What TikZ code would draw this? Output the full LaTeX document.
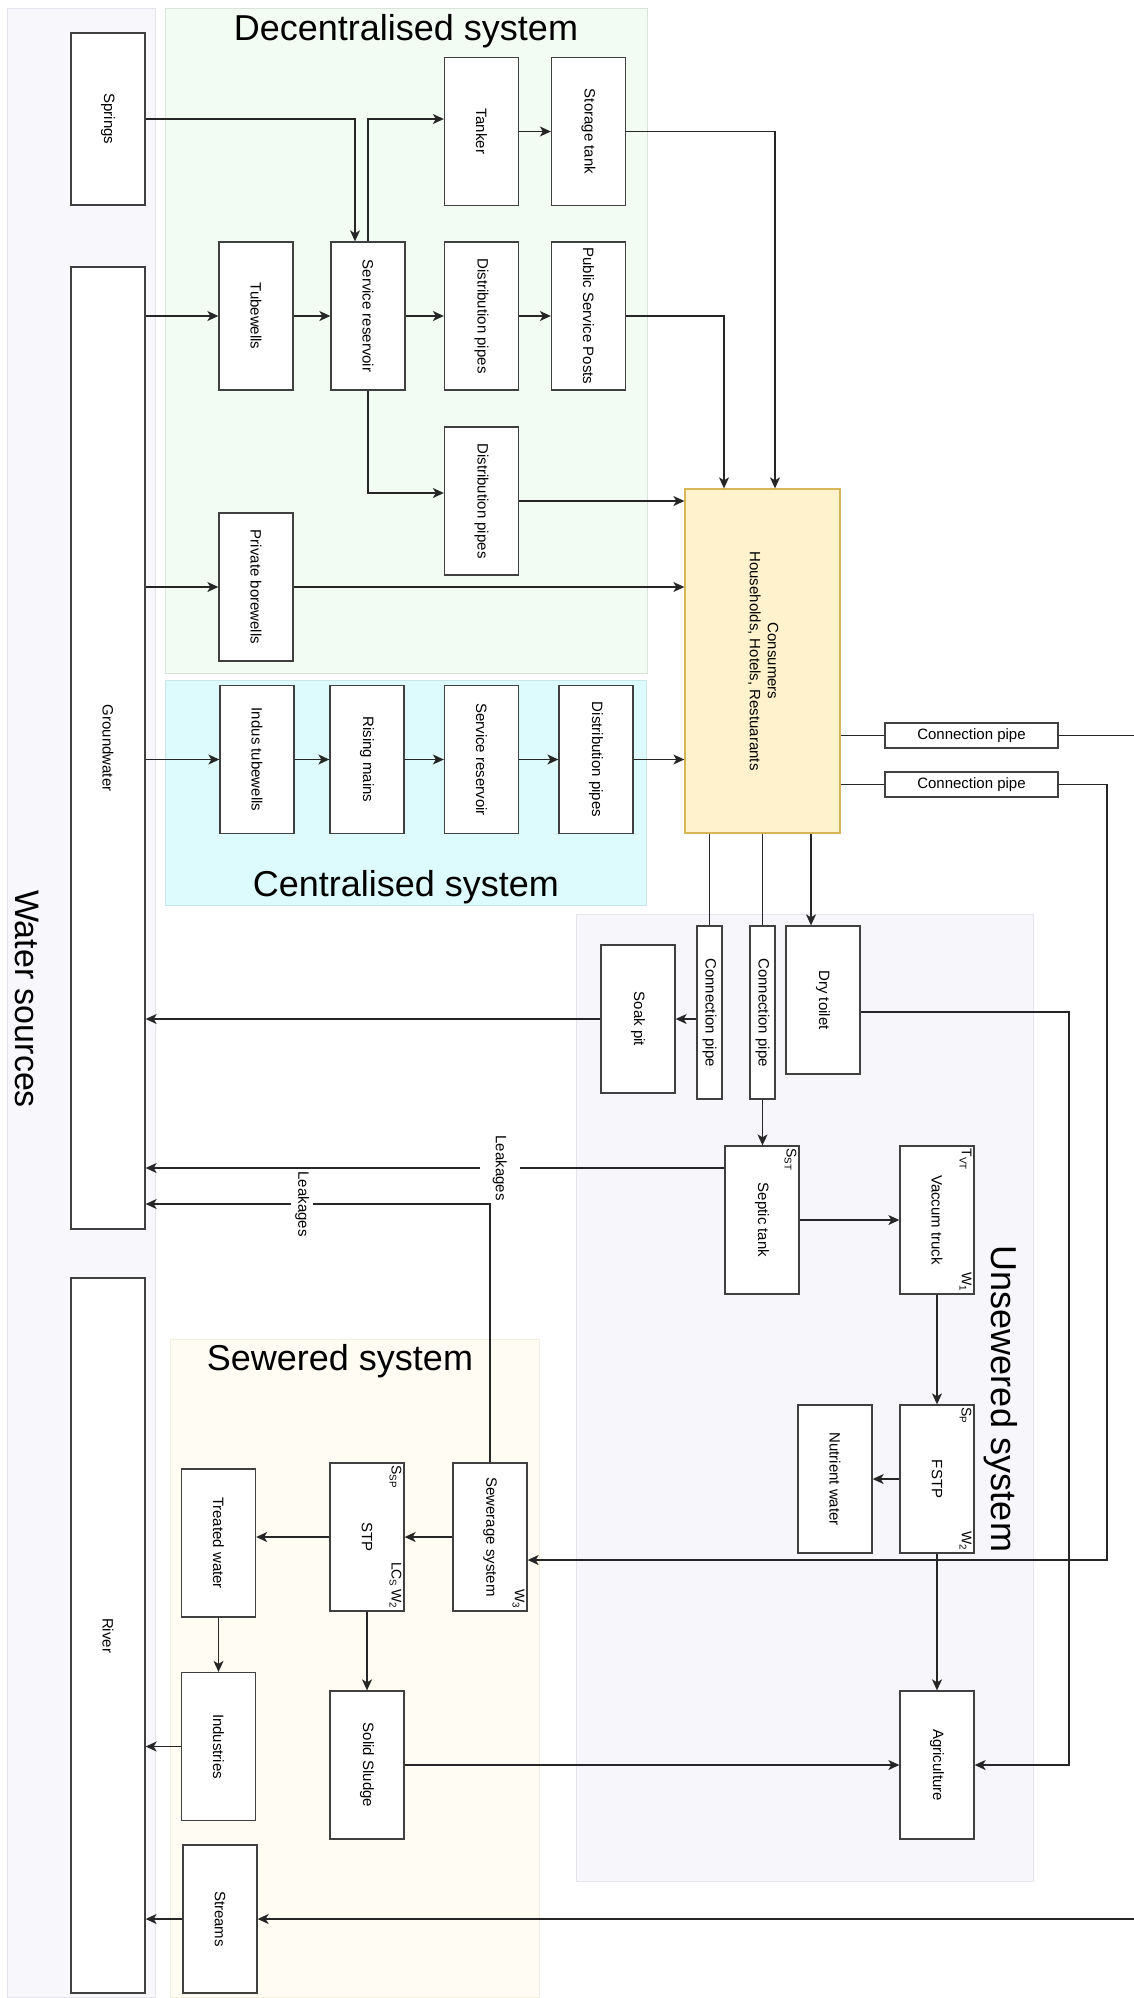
\documentclass[tikz,border=0pt]{standalone}
\usepackage{fontspec}
\setmainfont{Liberation Sans}
\usepackage{graphicx}
\usetikzlibrary{arrows.meta,positioning,calc}

\definecolor{wsrcfill}{HTML}{F7F7FC}
\definecolor{wsrcline}{HTML}{E4E4EE}
\definecolor{decfill}{HTML}{F2FCF2}
\definecolor{decline}{HTML}{D8E4D8}
\definecolor{cenfill}{HTML}{DDFBFD}
\definecolor{cenline}{HTML}{C9E6EA}
\definecolor{unsfill}{HTML}{F7F6FA}
\definecolor{unsline}{HTML}{E6E4EC}
\definecolor{sewfill}{HTML}{FEFCF3}
\definecolor{sewline}{HTML}{F3EFDF}
\definecolor{consfill}{HTML}{FFF2CC}
\definecolor{consline}{HTML}{D6B656}

\newcommand{\vlab}[1]{\rotatebox{-90}{#1}}

\tikzset{
  box/.style={draw=black!75, fill=white, line width=1.3pt, inner sep=0pt,
    minimum width=74pt, minimum height=148pt, font=\fontsize{15}{18}\selectfont},
  pipe/.style={box, minimum width=173pt, minimum height=25pt},
  vpipe/.style={box, minimum width=25pt, minimum height=173pt},
  arr/.style={-{Stealth[length=11pt,width=10pt,inset=3pt]}, line width=1.3pt, draw=black!85},
  link/.style={line width=1.3pt, draw=black!85},
  title/.style={font=\fontsize{36}{40}\selectfont, anchor=base},
  lbl/.style={fill=white, inner xsep=4pt, inner ysep=1pt, font=\fontsize{15}{18}\selectfont},
  tag/.style={inner sep=3pt, font=\fontsize{14}{16}\selectfont, rotate=-90},
}

\begin{document}
\begin{tikzpicture}[x=1pt,y=-1pt]
    \useasboundingbox (0,0) rectangle (1134,1998);
    \fill[white] (0,0) rectangle (1134,1998);

    % Panels
    \draw[wsrcline, fill=wsrcfill] (7,8) rectangle (155,1997);
    \draw[decline, fill=decfill] (165,8) rectangle (647,673);
    \draw[cenline, fill=cenfill] (165,680) rectangle (646,905);
    \draw[unsline, fill=unsfill] (576,914) rectangle (1033,1881);
    \draw[sewline, fill=sewfill] (170,1339) rectangle (539,1997);

    \node[title] (dectitle) at (406,40) {Decentralised system};
    \node[title] (centitle) at (406,896) {Centralised system};
    \node[title] (sewtitle) at (340,1370) {Sewered system};
    \node[font=\fontsize{34}{38}\selectfont, rotate=-90] (wstitle) at (27,999) {Water sources};
    \node[font=\fontsize{36}{40}\selectfont, rotate=-90] (unstitle) at (1001,1399) {Unsewered system};

    % Sources
    \node[box, minimum height=172pt] (springs) at (108,119) {\vlab{Springs}};
    \node[box, minimum height=962pt] (gw) at (108,748) {\vlab{Groundwater}};
    \node[box, minimum height=715pt] (river) at (108,1635.5) {\vlab{River}};

    % Decentralised
    \node[box] (tubew) at (256,316) {\vlab{Tubewells}};
    \node[box] (srvA) at (368,316) {\vlab{Service reservoir}};
    \node[box] (tanker) at (481.5,131.5) {\vlab{Tanker}};
    \node[box] (storage) at (588.5,131.5) {\vlab{Storage tank}};
    \node[box] (distA) at (481.5,316) {\vlab{Distribution pipes}};
    \node[box] (psp) at (588.5,316) {\vlab{Public Service Posts}};
    \node[box] (distB) at (481.5,501) {\vlab{Distribution pipes}};
    \node[box] (privbw) at (256,587) {\vlab{Private borewells}};

    \node[box, fill=consfill, draw=consline, minimum width=155pt, minimum height=344pt] (cons) at (762.5,661)
        {\vlab{\begin{tabular}{@{}c@{}}Consumers\\Households, Hotels, Restuarants\end{tabular}}};

    % Centralised
    \node[box] (indus) at (257,759.5) {\vlab{Indus tubewells}};
    \node[box] (rising) at (367,759.5) {\vlab{Rising mains}};
    \node[box] (srvB) at (481.5,759.5) {\vlab{Service reservoir}};
    \node[box] (distC) at (596,759.5) {\vlab{Distribution pipes}};

    \node[pipe] (cpA) at (971.5,735.5) {Connection pipe};
    \node[pipe] (cpB) at (971.5,784.5) {Connection pipe};
    \node[vpipe] (cpC) at (709.5,1012.5) {\vlab{Connection pipe}};
    \node[vpipe] (cpD) at (762.5,1012.5) {\vlab{Connection pipe}};

    % Unsewered
    \node[box] (dry) at (823,1000) {\vlab{Dry toilet}};
    \node[box] (soak) at (638,1019) {\vlab{Soak pit}};
    \node[box] (septic) at (762,1220) {\vlab{Septic tank}};
    \node[box] (vtruck) at (937,1220) {\vlab{Vaccum truck}};
    \node[box] (fstp) at (937,1479) {\vlab{FSTP}};
    \node[box] (nutr) at (835,1479) {\vlab{Nutrient water}};
    \node[box] (agri) at (937,1765) {\vlab{Agriculture}};

    % Sewered
    \node[box] (sewer) at (490,1537) {\vlab{Sewerage system}};
    \node[box] (stp) at (367,1537) {\vlab{STP}};
    \node[box] (treated) at (218.5,1543) {\vlab{Treated water}};
    \node[box] (indst) at (218.5,1746.5) {\vlab{Industries}};
    \node[box] (sludge) at (367,1765) {\vlab{Solid Sludge}};
    \node[box] (streams) at (220,1919) {\vlab{Streams}};

    \node[tag, anchor=north west] (tagST) at (septic.north east) {S\textsubscript{ST}};
    \node[tag, anchor=north west] (tagVT) at (vtruck.north east) {T\textsubscript{VT}};
    \node[tag, anchor=north east] (tagW1) at (vtruck.south east) {W\textsubscript{1}};
    \node[tag, anchor=north west] (tagSP) at (fstp.north east) {S\textsubscript{P}};
    \node[tag, anchor=north east] (tagW2) at (fstp.south east) {W\textsubscript{2}};
    \node[tag, anchor=north west] (tagSSP) at (stp.north east) {S\textsubscript{SP}};
    \node[tag, anchor=north east] (tagLC) at (stp.south east) {LC\textsubscript{S}\,W\textsubscript{2}};
    \node[tag, anchor=north east] (tagW3) at (sewer.south east) {W\textsubscript{3}};

    % Decentralised flows
    \draw[arr] (springs.east) -| ([xshift=-13pt]srvA.north);
    \draw[arr] (srvA.north) |- (tanker.west |- springs.east);
    \draw[arr] (tanker) -- (storage);
    \draw[arr] (gw.east |- tubew.west) -- (tubew.west);
    \draw[arr] (tubew) -- (srvA);
    \draw[arr] (srvA) -- (distA);
    \draw[arr] (distA) -- (psp);
    \draw[arr] (srvA.south) |- ([yshift=8pt]distB.west);
    \draw[arr] (distB.east) -- (distB.east -| cons.west);
    \draw[arr] (gw.east |- privbw.west) -- (privbw.west);
    \draw[arr] (privbw.east) -- (privbw.east -| cons.west);
    \draw[arr] (storage.east) -| ([xshift=12.5pt]cons.north);
    \draw[arr] (psp.east) -| ([xshift=-38.5pt]cons.north);

    % Centralised flows
    \draw[arr] (gw.east |- indus.west) -- (indus.west);
    \draw[arr] (indus) -- (rising);
    \draw[arr] (rising) -- (srvB);
    \draw[arr] (srvB) -- (distC);
    \draw[arr] (distC.east) -- (distC.east -| cons.west);

    % Outflows
    \coordinate (edgeA) at (1134,735.5);
    \coordinate (bendB) at (1107,1560);
    \coordinate (edgeS) at (1134,1919);
    \coordinate (dryin) at ([xshift=-12pt]dry.north);
    \draw[link] (cons.east |- cpA.west) -- (cpA.west);
    \draw[link] (cpA.east) -- (edgeA);
    \draw[link] (cons.east |- cpB.west) -- (cpB.west);
    \draw[arr] (cpB.east) -| (bendB) -- (bendB -| sewer.east);
    \draw[link] (cpC.north |- cons.south) -- (cpC.north);
    \draw[link] (cpD.north |- cons.south) -- (cpD.north);
    \draw[arr] (dryin |- cons.south) -- (dryin);
    \draw[arr] (cpC.west |- soak.east) -- (soak.east);
    \draw[arr] (soak.west) -- (soak.west -| gw.east);
    \draw[arr] (cpD.south) -- (cpD.south |- septic.north);

    % Leakages
    \coordinate (leakA) at ([yshift=52pt]septic.west);
    \coordinate (leakB) at (490,1204);
    \draw[arr] (leakA) -- node[lbl, inner xsep=13pt, pos=0.388] (lkA) {\vlab{Leakages}} (leakA -| gw.east);
    \draw[arr] (sewer.north) -- (leakB) -- node[lbl, pos=0.545] (lkB) {\vlab{Leakages}} (leakB -| gw.east);

    \draw[arr] (septic) -- (vtruck);
    \draw[arr] (vtruck) -- (fstp);
    \draw[arr] (fstp) -- (nutr);
    \draw[arr] (fstp) -- (agri);
    \coordinate (drybend) at (1069,1012);
    \draw[arr] (dry.east |- drybend) -- (drybend) |- (agri.east);

    % Sewered flows
    \draw[arr] (sewer) -- (stp);
    \draw[arr] (stp.west) -- (stp.west -| treated.east);
    \draw[arr] (stp) -- (sludge);
    \draw[arr] (treated) -- (indst);
    \draw[arr] (indst.west) -- (indst.west -| river.east);
    \draw[arr] (sludge) -- (agri);
    \draw[arr] (streams.west) -- (streams.west -| river.east);
    \draw[arr] (edgeS) -- (streams.east);
\end{tikzpicture}
\end{document}
